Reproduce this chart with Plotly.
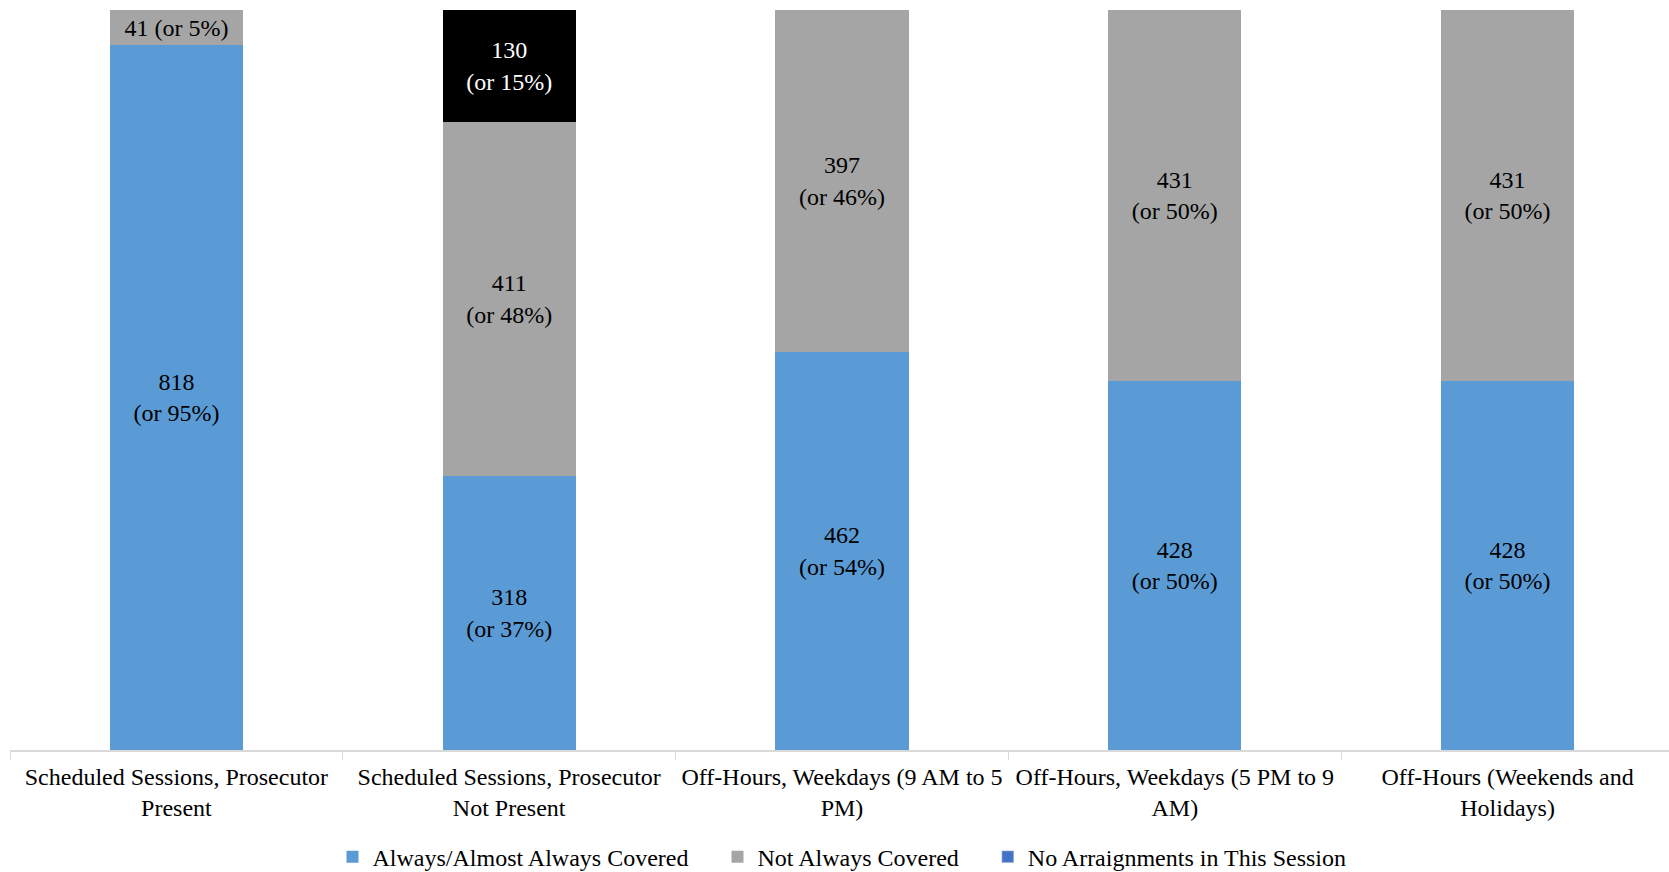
import plotly.graph_objects as go

categories = [
    "Scheduled Sessions, Prosecutor<br>Present",
    "Scheduled Sessions, Prosecutor<br>Not Present",
    "Off-Hours, Weekdays (9 AM to 5<br>PM)",
    "Off-Hours, Weekdays (5 PM to 9<br>AM)",
    "Off-Hours (Weekends and<br>Holidays)",
]
always_covered = [818, 318, 462, 428, 428]
not_always = [41, 411, 397, 431, 431]
no_arraign = [0, 130, 0, 0, 0]

always_text = ["818<br>(or 95%)", "318<br>(or 37%)", "462<br>(or 54%)", "428<br>(or 50%)", "428<br>(or 50%)"]
not_always_text = ["41 (or 5%)", "411<br>(or 48%)", "397<br>(or 46%)", "431<br>(or 50%)", "431<br>(or 50%)"]
no_arraign_text = ["", "130<br>(or 15%)", "", "", ""]

FONT = "Liberation Serif, Times New Roman, serif"
FS = 24
PAD = "\u00a0" * 4
fig = go.Figure()
fig.add_trace(go.Bar(
    x=categories, y=always_covered, name="Always/Almost Always Covered" + PAD,
    marker=dict(color="#5B9BD5", line=dict(width=0)),
    text=always_text, textposition="inside", insidetextanchor="middle",
    textangle=0, constraintext="none",
    textfont=dict(family=FONT, size=FS, color="black"),
))
fig.add_trace(go.Bar(
    x=categories, y=not_always, name="Not Always Covered" + PAD,
    marker=dict(color="#A5A5A5", line=dict(width=0)),
    text=not_always_text, textposition="inside", insidetextanchor="middle",
    textangle=0, constraintext="none",
    textfont=dict(family=FONT, size=FS, color="black"),
))
fig.add_trace(go.Bar(
    x=categories, y=no_arraign, name="No Arraignments in This Session",
    marker=dict(color="black", line=dict(width=0)), showlegend=False,
    text=no_arraign_text, textposition="inside", insidetextanchor="middle",
    textangle=0, constraintext="none",
    textfont=dict(family=FONT, size=FS, color="white"),
))
# legend entry for the third series (legend swatch shown in blue in the original)
fig.add_trace(go.Bar(
    x=[categories[0]], y=[None], name="No Arraignments in This Session",
    marker=dict(color="#4472C4"), showlegend=True, hoverinfo="skip",
))

fig.update_layout(
    barmode="stack",
    bargap=0.6,
    width=1674, height=872,
    margin=dict(l=10, r=0, t=10, b=122, autoexpand=False),
    plot_bgcolor="white", paper_bgcolor="white",
    font=dict(family=FONT, size=FS, color="black"),
    legend=dict(orientation="h", x=0.5, xanchor="center", xref="paper",
                y=0.017, yanchor="middle", yref="container",
                font=dict(family=FONT, size=FS, color="black"),
                traceorder="normal", itemwidth=30),
    showlegend=True,
)
fig.update_xaxes(showline=True, linecolor="#D9D9D9", linewidth=1.5, automargin=False,
                 ticks="outside", tickcolor="#D9D9D9", ticklen=8, tickson="boundaries",
                 ticklabelstandoff=4,
                 tickfont=dict(family=FONT, size=FS, color="black"))
fig.update_yaxes(visible=False, range=[0, 859], showgrid=False, automargin=False)

fig.write_html("out.html", config={"displayModeBar": False},
               post_script="document.body.style.margin='0';document.body.style.overflow='hidden';")
